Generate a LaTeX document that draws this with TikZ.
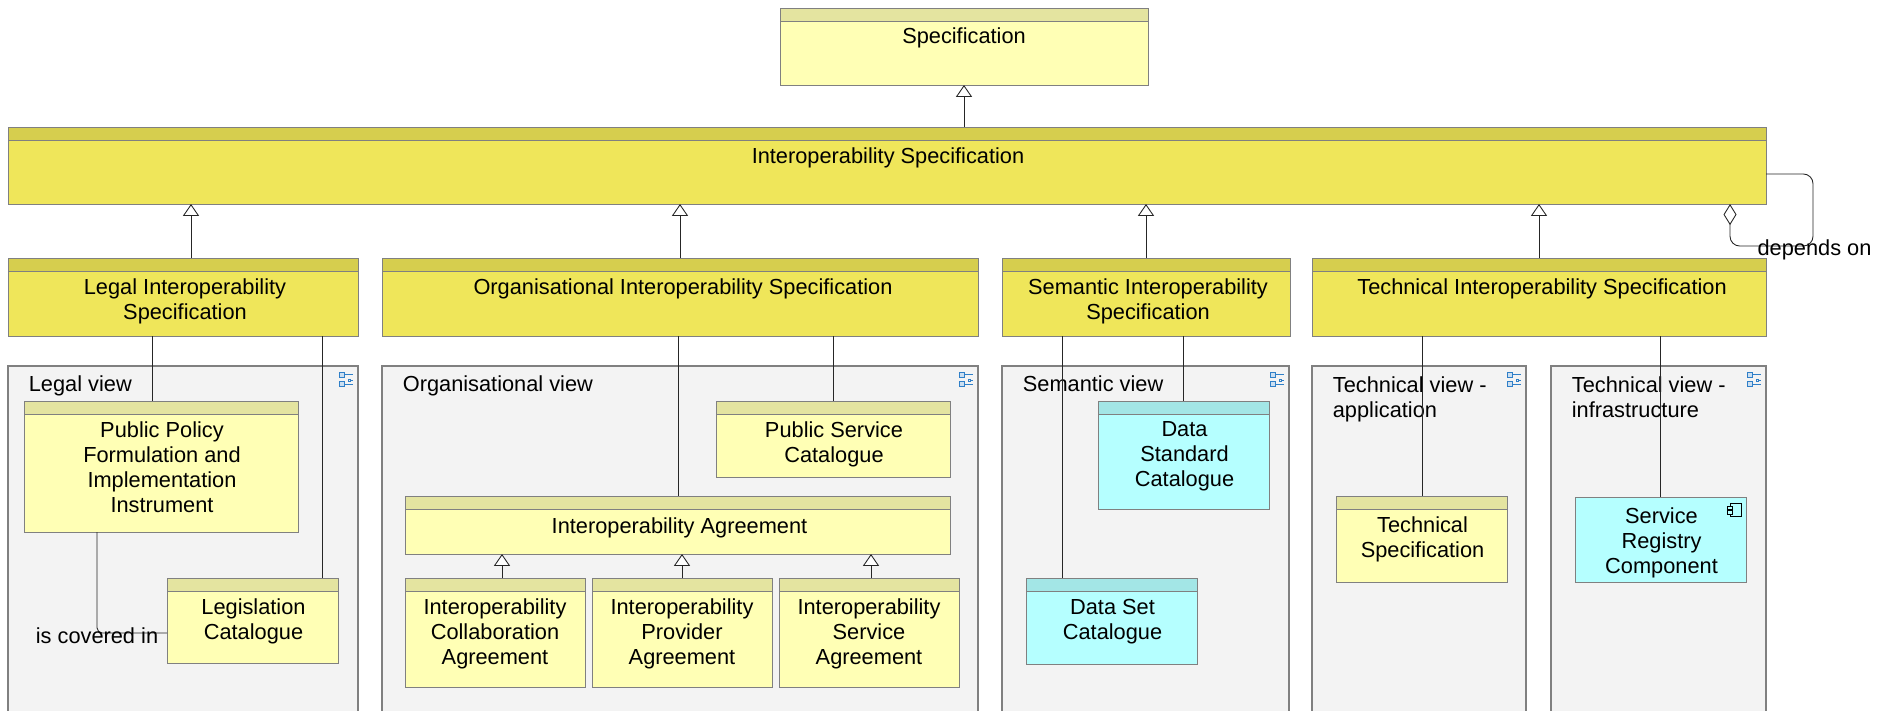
\documentclass[tikz,border=0pt]{standalone}
\usepackage{fontspec}
\setmainfont{Liberation Sans}
\usetikzlibrary{arrows.meta}

\definecolor{specDark}{HTML}{EFE65A}
\definecolor{specDarkHead}{HTML}{D6CE4E}
\definecolor{specLight}{HTML}{FFFFB5}
\definecolor{specLightHead}{HTML}{E4E4A0}
\definecolor{dataCyan}{HTML}{B5FFFF}
\definecolor{dataCyanHead}{HTML}{A3E6E6}
\definecolor{viewGrey}{HTML}{F3F3F3}
\definecolor{iconBlue}{HTML}{2F7FC8}

\def\px{0.02cm}

\tikzset{
  elem/.style={draw=black!50,line width=0.5pt,inner sep=0pt,outer sep=0pt},
  elemhead/.style={draw=black!50,line width=0.5pt},
  elemtext/.style={anchor=north,inner sep=0pt,align=center,
    font=\fontsize{12.4}{14.17}\selectfont,execute at begin node=\strut},
  viewbox/.style={draw=black!50,line width=0.6pt,fill=viewGrey},
  viewtext/.style={anchor=north west,inner sep=0pt,align=left,
    font=\fontsize{12.4}{14.17}\selectfont,execute at begin node=\strut},
  linktext/.style={inner sep=0pt,font=\fontsize{12.4}{14.17}\selectfont},
  link/.style={line width=0.5pt,black!85},
  icon/.style={draw=iconBlue,line width=0.45pt},
}

% [text offset], name, x1, y1, x2, y2, fill, head fill, text
\newcommand{\elemBox}[9][(0,20.5)]{
  \node[elem,fill=#7,minimum width={(#5-#3)*\px},minimum height={(#6-#4)*\px}]
    (#2) at ({(#3+#5)/2},{(#4+#6)/2}) {};
  \draw[elemhead,fill=#8] (#2.north west) rectangle ([yshift={-13*\px}]#2.north east);
  \node[elemtext] (#2T) at ([shift={#1}]#2.north) {#9};
}

% [text top], name, x1, x2, text
\newcommand{\viewBox}[5][373.5]{
  \draw[viewbox] (#3,366) rectangle (#4,730);
  \coordinate (#2) at (#4,366);
  \node[viewtext] (#2T) at (#3+20.5,#1) {#5};
  \draw[icon,fill=iconBlue!25] ([shift={(-19,6)}]#2) rectangle ([shift={(-14,11)}]#2);
  \draw[icon,fill=iconBlue!25] ([shift={(-19,15)}]#2) rectangle ([shift={(-14,20)}]#2);
  \draw[icon] ([shift={(-13,8)}]#2)--([shift={(-5,8)}]#2);
  \draw[icon] ([shift={(-13,18)}]#2)--([shift={(-5,18)}]#2);
  \draw[icon] ([shift={(-10,13)}]#2) rectangle ([shift={(-8,15)}]#2);
  \draw[icon] ([shift={(-8,14)}]#2)--([shift={(-5,14)}]#2);
}

\begin{document}
\begin{tikzpicture}[x=0.02cm,y=-0.02cm,
    >={Triangle[fill=white,length=6.8pt,width=9.2pt]}]

  \clip (0,0) rectangle (1879,710);

  \begin{scope}   % views in the lower row
    \viewBox{legalV}{8}{358}{Legal view}
    \viewBox{orgV}{382}{978}{Organisational view}
    \viewBox{semV}{1002}{1289}{Semantic view}
    \viewBox[376]{appV}{1312}{1526}{Technical view -\\application}
    \viewBox[376]{infraV}{1551}{1766}{Technical view -\\infrastructure}
  \end{scope}

  \begin{scope}   % specifications
    \elemBox[(0,17.5)]{spec}{780}{8}{1148}{85}{specLight}{specLightHead}{Specification}
    \elemBox[(1,18.5)]{interopS}{8}{127}{1766}{204}{specDark}{specDarkHead}{Interoperability Specification}
    \elemBox[(2,20.5)]{legalS}{8}{258}{358}{336}{specDark}{specDarkHead}{Legal Interoperability\\Specification}
    \elemBox[(3,18.5)]{orgS}{382}{258}{978}{336}{specDark}{specDarkHead}{Organisational Interoperability Specification}
    \elemBox[(2,20.5)]{semS}{1002}{258}{1290}{336}{specDark}{specDarkHead}{Semantic Interoperability\\Specification}
    \elemBox[(3,18.5)]{techS}{1312}{258}{1766}{336}{specDark}{specDarkHead}{Technical Interoperability Specification}
  \end{scope}

  \begin{scope}   % catalogues and agreements
    \elemBox[(1,20.5)]{policy}{24}{401}{298}{532}{specLight}{specLightHead}{Public Policy\\Formulation and\\Implementation\\Instrument}
    \elemBox[(1,20.5)]{legislation}{167}{578}{338}{663}{specLight}{specLightHead}{Legislation\\Catalogue}
    \elemBox[(1,20.5)]{publicCat}{716}{401}{950}{477}{specLight}{specLightHead}{Public Service\\Catalogue}
    \elemBox[(2,19.5)]{agreement}{405}{496}{950}{554}{specLight}{specLightHead}{Interoperability Agreement}
    \elemBox{collab}{405}{578}{585}{687}{specLight}{specLightHead}{Interoperability\\Collaboration\\Agreement}
    \elemBox{provider}{592}{578}{772}{687}{specLight}{specLightHead}{Interoperability\\Provider\\Agreement}
    \elemBox{service}{779}{578}{959}{687}{specLight}{specLightHead}{Interoperability\\Service\\Agreement}
    \elemBox[(1,20.5)]{dataStd}{1098}{401}{1269}{509}{dataCyan}{dataCyanHead}{Data\\Standard\\Catalogue}
    \elemBox[(1,21)]{dataSet}{1026}{578}{1197}{664}{dataCyan}{dataCyanHead}{Data Set\\Catalogue}
    \elemBox[(1,20.5)]{techSpec}{1336}{496}{1507}{582}{specLight}{specLightHead}{Technical\\Specification}

    \node[elem,fill=dataCyan,minimum width={171*\px},minimum height={85*\px}]
      (registry) at (1660.5,539.5) {};
    \node[elemtext] (registryT) at ([shift={(1,10.5)}]registry.north) {Service\\Registry\\Component};
    \draw[line width=0.5pt] ([shift={(-16,6)}]registry.north east) rectangle ([shift={(-5,19)}]registry.north east);
    \draw[line width=0.5pt,fill=dataCyan] ([shift={(-18.5,9)}]registry.north east) rectangle ([shift={(-13.5,12.5)}]registry.north east);
    \draw[line width=0.5pt,fill=dataCyan] ([shift={(-18.5,13.5)}]registry.north east) rectangle ([shift={(-13.5,17)}]registry.north east);
  \end{scope}

  \begin{scope}   % specialisation arrows
    \draw[link,->] (spec.south |- interopS.north)--(spec.south);
    \draw[link,->] ([xshift={8*\px}]legalS.north)--([xshift={8*\px}]legalS.north |- interopS.south);
    \draw[link,->] (orgS.north)--(orgS.north |- interopS.south);
    \draw[link,->] (semS.north)--(semS.north |- interopS.south);
    \draw[link,->] (techS.north)--(techS.north |- interopS.south);
    \draw[link,->] ([xshift={7*\px}]collab.north)--([xshift={7*\px}]collab.north |- agreement.south);
    \draw[link,->] (provider.north)--(provider.north |- agreement.south);
    \draw[link,->] ([xshift={2*\px}]service.north)--([xshift={2*\px}]service.north |- agreement.south);
  \end{scope}

  \begin{scope}   % plain associations
    \foreach \x/\from/\to in {152/legalS/policy,322/legalS/legislation,
        678/orgS/agreement,833/orgS/publicCat,1062/semS/dataSet,1183/semS/dataStd,
        1422/techS/techSpec,1660/techS/registry}
    {
      \draw[link] (\x,0 |- \from.south)--(\x,0 |- \to.north);
    }

    \coordinate (coveredA) at (97,633);
    \draw[link,rounded corners=3pt] (coveredA |- policy.south)--(coveredA)--(coveredA -| legislation.west);
    \node[linktext] (coveredL) at (97,636) {is covered in};

    \coordinate (dependsA) at (1813,174);
    \coordinate (dependsB) at (1730,246);
    \draw[link,rounded corners=5.5pt,
        -{Diamond[fill=white,length=12pt,width=7.4pt]}]
      (dependsA -| interopS.east)--(dependsA)--(dependsA |- dependsB)--(dependsB)--(dependsB |- interopS.south);
    \node[linktext] (dependsL) at (1814.5,250) {depends on};
  \end{scope}

\end{tikzpicture}
\end{document}
